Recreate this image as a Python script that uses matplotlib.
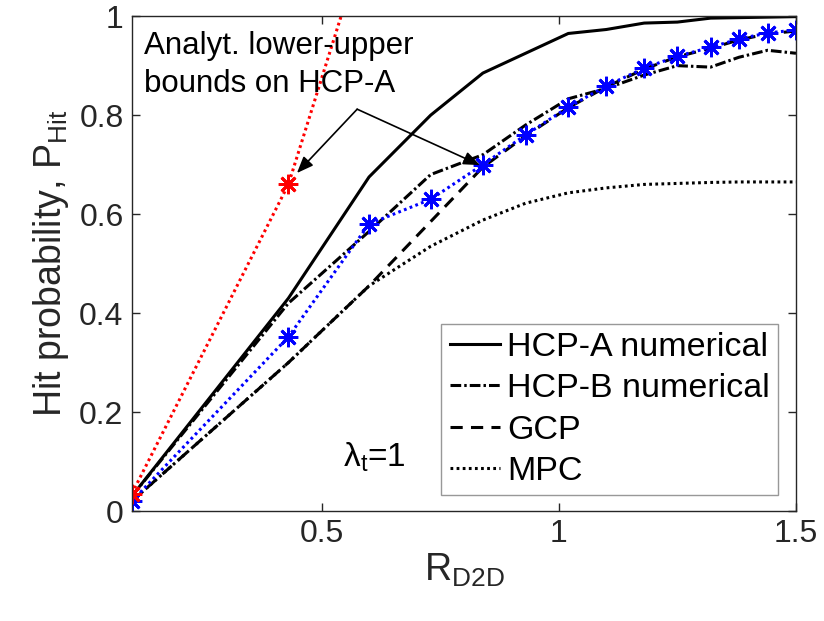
import matplotlib
matplotlib.use("Agg")
import matplotlib.pyplot as plt

plt.rcParams['font.family'] = ['Liberation Sans', 'DejaVu Sans']
plt.rcParams['mathtext.fontset'] = 'custom'
plt.rcParams['mathtext.rm'] = 'Liberation Sans'
plt.rcParams['mathtext.it'] = 'Liberation Sans:italic'

# Data
r_d2d = [0.1, 0.43, 0.6, 0.73, 0.84, 0.93, 1.02, 1.1, 1.18, 1.25, 1.32, 1.38, 1.44, 1.5]
hcp_a = [0.03, 0.43, 0.675, 0.80, 0.885, 0.925, 0.965, 0.973, 0.986, 0.988, 0.996, 0.997, 0.998, 0.999]
hcp_b = [0.03, 0.42, 0.565, 0.68, 0.72, 0.78, 0.833, 0.854, 0.881, 0.90, 0.897, 0.917, 0.931, 0.925]
gcp = [0.02, 0.30, 0.455, 0.585, 0.695, 0.758, 0.815, 0.857, 0.893, 0.918, 0.935, 0.952, 0.964, 0.970]
mpc = [0.02, 0.30, 0.455, 0.535, 0.588, 0.622, 0.643, 0.653, 0.66, 0.662, 0.664, 0.665, 0.665, 0.665]
lower_bound = [0.02, 0.352, 0.58, 0.63, 0.70, 0.76, 0.816, 0.859, 0.895, 0.919, 0.937, 0.954, 0.966, 0.972]
upper_x = [0.1, 0.43, 0.6]
upper_bound = [0.035, 0.66, 1.18]

labels = ['HCP-A numerical', 'HCP-B numerical', 'GCP', 'MPC']
xticks = [0.5, 1, 1.5]
xticklabels = ['0.5', '1', '1.5']
yticks = [0, 0.2, 0.4, 0.6, 0.8, 1]
yticklabels = ['0', '0.2', '0.4', '0.6', '0.8', '1']

fig = plt.figure(figsize=(8.24, 6.21), dpi=100)
ax = fig.add_axes([0.160, 0.177, 0.806, 0.797])

lw = 2.2
ax.plot(r_d2d, hcp_a, '-', color='k', lw=lw, label=labels[0])
ax.plot(r_d2d, hcp_b, color='k', lw=lw, dashes=(3.5, 1.0, 0.8, 1.0), label=labels[1])
ax.plot(r_d2d, gcp, color='k', lw=lw, dashes=(4, 2.7), label=labels[2])
ax.plot(r_d2d, mpc, color='k', lw=lw, dashes=(0.9, 1.1), label=labels[3])

ast = (8, 2, 0)
ax.plot(r_d2d, lower_bound, color='blue', lw=lw, dashes=(0.9, 1.1),
        marker=ast, markersize=14, markeredgewidth=2.0, markeredgecolor='blue')
ax.plot(upper_x, upper_bound, color='red', lw=lw, dashes=(0.9, 1.1),
        marker=ast, markersize=14, markeredgewidth=2.0, markeredgecolor='red')

ax.set_xlim(0.1, 1.5)
ax.set_ylim(0, 1)
ax.set_xticks(xticks)
ax.set_xticklabels(xticklabels)
ax.set_yticks(yticks)
ax.set_yticklabels(yticklabels)

gray = '#262626'
for s in ax.spines.values():
    s.set_color(gray)
    s.set_linewidth(1.0)
ax.tick_params(direction='in', length=6, width=1.0, colors=gray, labelsize=23,
               top=True, right=True, pad=6)
for t in ax.get_xticklabels() + ax.get_yticklabels():
    t.set_color(gray)

ax.set_xlabel(r'R$_{\rm D2D}$', fontsize=27, color=gray, labelpad=2)
ax.set_ylabel(r'Hit probability, P$_{\rm Hit}$', fontsize=27, color=gray, labelpad=6)

leg = ax.legend(loc='lower right', bbox_to_anchor=(0.973, 0.032), borderaxespad=0,
                fontsize=24.5, handlelength=1.47, handletextpad=0.2, labelspacing=0.3,
                borderpad=0.25, fancybox=False, frameon=True)
leg.get_frame().set_edgecolor('#7f7f7f')
leg.get_frame().set_linewidth(1.0)

ax.text(0.125, 0.97, 'Analyt. lower-upper\nbounds on HCP-A', fontsize=22.5,
        va='top', ha='left', linespacing=1.35)

vertex = (0.575, 0.812)
for head in [(0.448, 0.683), (0.834, 0.699)]:
    ax.annotate('', xy=head, xytext=vertex,
                arrowprops=dict(arrowstyle='-|>,head_length=1.0,head_width=0.4',
                                lw=1.2, color='k', shrinkA=0, shrinkB=0))

ax.text(0.545, 0.09, 'λ$_{\\rm t}$=1', fontsize=24, ha='left', va='baseline')

fig.savefig('out.png', dpi=100)
